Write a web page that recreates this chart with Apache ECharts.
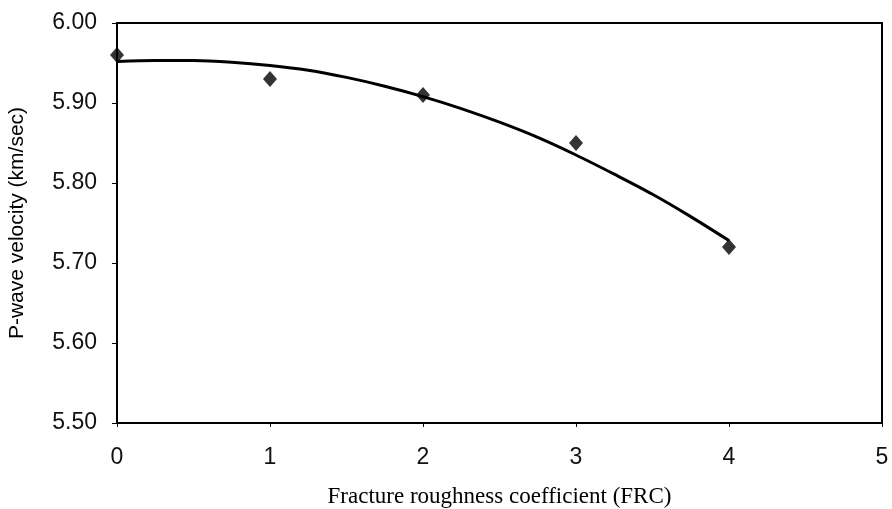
<!DOCTYPE html>
<html>
<head>
<meta charset="utf-8">
<script src="https://cdn.jsdelivr.net/npm/echarts@6/dist/echarts.min.js"></script>
<style>
html,body{margin:0;padding:0;background:#fff;}
#chart{width:892px;height:509px;}
</style>
</head>
<body>
<div id="chart"></div>
<script>
// Measured data points (FRC, P-wave velocity km/sec)
const frc = [0, 1, 2, 3, 4];
const velocity = [5.96, 5.93, 5.91, 5.85, 5.72];
// Trend curve points
const trendX = [0, 0.25, 0.5, 0.75, 1, 1.25, 1.5, 1.75, 2, 2.25, 2.5, 2.75, 3, 3.25, 3.5, 3.75, 4];
const trendY = [5.952, 5.953, 5.953, 5.951, 5.947, 5.941, 5.932, 5.921, 5.908, 5.893, 5.876, 5.857, 5.835, 5.811, 5.786, 5.758, 5.728];
const xTicks = [0, 1, 2, 3, 4, 5];
const yTicks = [5.50, 5.60, 5.70, 5.80, 5.90, 6.00];

const chart = echarts.init(document.getElementById('chart'), null, {renderer: 'canvas'});
const tickFont = {color: '#111', fontFamily: 'Liberation Sans, Arial, sans-serif', fontSize: 23};
chart.setOption({
  animation: false,
  backgroundColor: '#fff',
  grid: {left: 117, right: 10, top: 23, bottom: 86, containLabel: false, outerBoundsMode: 'none',
         show: true, borderColor: '#000', borderWidth: 2},
  xAxis: {
    type: 'value', min: xTicks[0], max: xTicks[xTicks.length - 1], interval: 1,
    name: 'Fracture roughness coefficient (FRC)', nameLocation: 'middle', nameGap: 62,
    nameTextStyle: {color: '#000', fontFamily: 'Liberation Serif, Times New Roman, serif', fontSize: 23},
    axisLine: {lineStyle: {color: '#000', width: 2}},
    axisTick: {show: true, length: 4, lineStyle: {color: '#000', width: 1}},
    axisLabel: Object.assign({margin: 23, formatter: v => String(v)}, tickFont),
    splitLine: {show: false}
  },
  yAxis: {
    type: 'value', min: yTicks[0], max: yTicks[yTicks.length - 1], interval: 0.1,
    name: 'P-wave velocity (km/sec)', nameLocation: 'middle', nameGap: 89, nameRotate: 90,
    nameTextStyle: {color: '#000', fontFamily: 'Liberation Sans, Arial, sans-serif', fontSize: 21},
    axisLine: {lineStyle: {color: '#000', width: 2}},
    axisTick: {show: true, length: 5, lineStyle: {color: '#000', width: 1}},
    axisLabel: Object.assign({margin: 20, formatter: v => v.toFixed(2)}, tickFont),
    splitLine: {show: false}
  },
  series: [
    {
      type: 'line', data: trendX.map((x, i) => [x, trendY[i]]), smooth: 0.3,
      showSymbol: false, symbol: 'none',
      lineStyle: {color: '#000', width: 3}, z: 2
    },
    {
      type: 'scatter', data: frc.map((x, i) => [x, velocity[i]]),
      symbol: 'diamond', symbolSize: [14, 16],
      itemStyle: {color: '#000'}, z: 3
    }
  ]
});
</script>
</body>
</html>
